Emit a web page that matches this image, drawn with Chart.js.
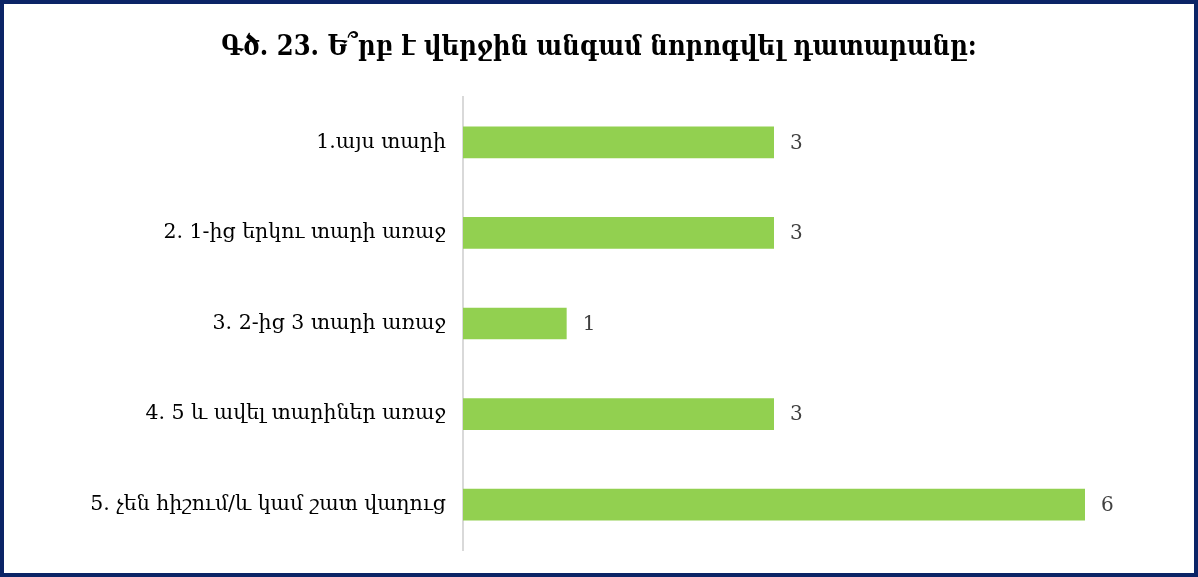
<!DOCTYPE html>
<html>
<head>
<meta charset="utf-8">
<script src="https://cdn.jsdelivr.net/npm/chart.js@4"></script>
<style>
  html, body { margin: 0; padding: 0; background: #fff; }
  #box {
    width: 1198px; height: 577px; box-sizing: border-box;
    border: 4px solid #0B2466; background: #fff; position: relative;
  }
  #chart-when { display: block; }
</style>
</head>
<body>
<div id="box"><canvas id="chart-when" width="1190" height="569"></canvas></div>
<script>
var categories = [
    "1.այս տարի",
    "2. 1-ից երկու տարի առաջ",
    "3. 2-ից 3 տարի առաջ",
    "4. 5 և ավել տարիներ առաջ",
    "5. չեն հիշում/և կամ շատ վաղուց"
];
var answers = [3, 3, 1, 3, 6];
var titleText = "Գծ. 23. Ե՞րբ է վերջին անգամ նորոգվել դատարանը:";

var serif = "'DejaVu Serif', 'Liberation Serif', serif";

// title centred on the whole canvas (chart area itself sits off-centre)
var pageTitle = {
    id: 'pageTitle',
    afterDraw: function(chart) {
        var ctx = chart.ctx;
        ctx.save();
        ctx.font = "bold 27px 'DejaVu Serif Condensed', 'DejaVu Serif', serif";
        ctx.fillStyle = "#000";
        ctx.textAlign = "center";
        ctx.textBaseline = "middle";
        ctx.fillText(titleText, chart.width / 2, 44);
        ctx.restore();
    }
};

// writes the number just right of each bar
var valueLabels = {
    id: 'valueLabels',
    afterDatasetsDraw: function(chart) {
        var ctx = chart.ctx;
        var meta = chart.getDatasetMeta(0);
        ctx.save();
        ctx.font = "20px " + serif;
        ctx.fillStyle = "#404040";
        ctx.textAlign = "left";
        ctx.textBaseline = "middle";
        meta.data.forEach(function(bar, i) {
            ctx.fillText(answers[i], bar.x + 16, bar.y + 1);
        });
        ctx.restore();
    }
};

var ctx = document.getElementById("chart-when");
var myBarChart = new Chart(ctx, {
    type: 'bar',
    data: {
        labels: categories,
        datasets: [{
            data: answers,
            backgroundColor: "#92D050",
            categoryPercentage: 0.7,
            barPercentage: 0.5
        }]
    },
    options: {
        indexAxis: 'y',
        responsive: false,
        animation: false,
        layout: { padding: { left: 0, right: 109, top: 93, bottom: 23 } },
        plugins: {
            legend: { display: false },
            tooltip: { enabled: false },
            title: { display: false }
        },
        scales: {
            x: {
                display: false,
                min: 0,
                max: 6
            },
            y: {
                grid: { display: false },
                border: { display: true, color: "#D9D9D9", width: 2 },
                ticks: {
                    color: "#000",
                    padding: 9,
                    font: { family: serif, size: 20.5 }
                },
                afterFit: function(scale) { scale.width = 459; }
            }
        }
    },
    plugins: [valueLabels, pageTitle]
});
</script>
</body>
</html>
